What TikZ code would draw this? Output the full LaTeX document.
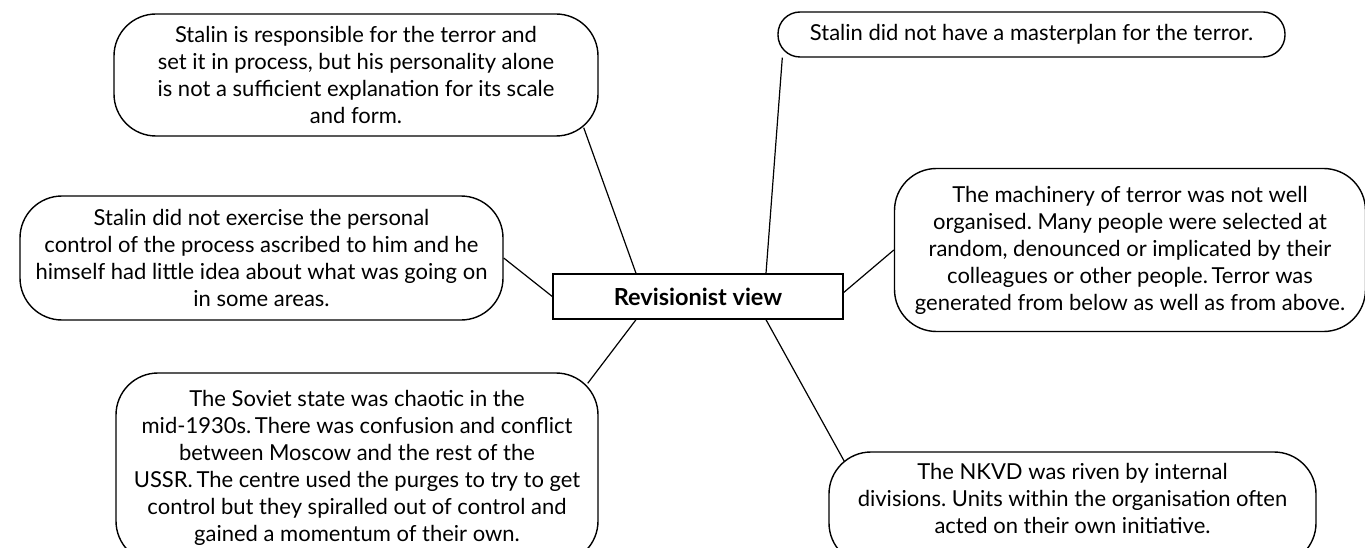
\documentclass[tikz,border=0pt]{standalone}
\usepackage{fontspec}
\setmainfont{Lato}
\frenchspacing
\begin{document}
\begin{tikzpicture}[x=1pt,y=-1pt,
  notetext/.style={align=center, inner sep=0pt, font=\fontsize{22}{27}\selectfont},
  note/.style={notetext, draw, line width=1.4pt, rounded corners=42pt},
  hub/.style={draw, line width=1.4pt, inner sep=0pt, minimum width=290pt, minimum height=45pt,
    font=\fontsize{23.5}{27}\selectfont\bfseries},
  link/.style={line width=1.2pt}]
\useasboundingbox (0,0) rectangle (1365,548);
\clip (0,0) rectangle (1365,548);
\node[hub] (c) at (698,296.5) {Revisionist view};
\node[note, minimum width=484pt, minimum height=122pt] (b1) at (356,75)
  {Stalin is responsible for the terror and\\ set it in process, but his personality alone\\ is not a sufficient explanation for its scale\\ and form.};
\node[note, minimum width=483pt, minimum height=124pt] (b2) at (261.5,258)
  {Stalin did not exercise the personal\\ control of the process ascribed to him and he\\ himself had little idea about what was going on\\ in some areas.};
\node[note, rounded corners=22pt, minimum width=507pt, minimum height=45pt] (b3) at (1031.5,34.5)
  {Stalin did not have a masterplan for the terror.};
\node[note, minimum width=471pt, minimum height=163pt] (b4) at (1130,250)
  {The machinery of terror was not well\\ organised. Many people were selected at\\ random, denounced or implicated by their\\ colleagues or other people.\,Terror was\\ generated from below as well as from above.};
\node[note, minimum width=482pt, minimum height=190pt] (b5) at (357,468)
  {The Soviet state was chaotic in the\\ mid-1930s.\,There was confusion and conflict\\ between Moscow and the rest of the\\ USSR.\,The centre used the purges to try to get\\ control but they spiralled out of control and\\ gained a momentum of their own.};
\node[note, minimum width=487pt, minimum height=113pt] (b6) at (1072.5,508.5) {};
\node[notetext] (b6t) at (1072.5,498)
  {The NKVD was riven by internal\\ divisions. Units within the organisation often\\ acted on their own initiative.};
\draw[link] ([shift={(-15pt,9pt)}]b1.south east) -- ([xshift=-62pt]c.north);
\draw[link] (b2.east) -- (c.west);
\draw[link] ([xshift=5pt]b3.south west) -- ([xshift=68pt]c.north);
\draw[link] (b4.west) -- ([yshift=4pt]c.east);
\draw[link] ([shift={(-11pt,-11pt)}]b5.north east) -- ([xshift=-62pt]c.south);
\draw[link] ([shift={(16pt,-10pt)}]b6.north west) -- ([xshift=68pt]c.south);
\end{tikzpicture}
\end{document}
